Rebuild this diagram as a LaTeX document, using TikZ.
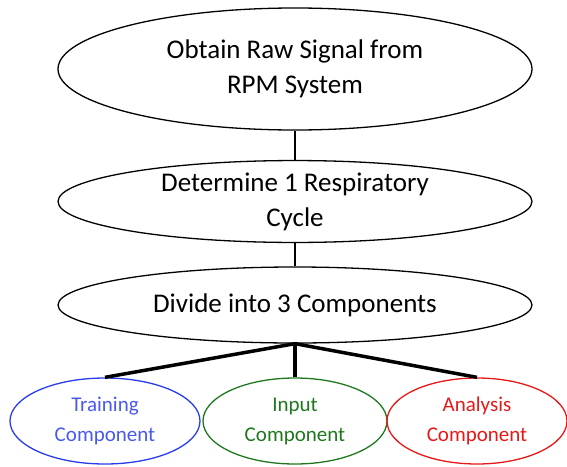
\documentclass[tikz,border=0pt]{standalone}
\usepackage{fontspec}
\setmainfont{Carlito}
\usepackage{tikz}
\usetikzlibrary{shapes.geometric}

\definecolor{trainblue}{RGB}{40,60,235}
\definecolor{inputgreen}{RGB}{30,120,30}
\definecolor{analysisred}{RGB}{230,25,25}

\tikzset{
  stage/.style={draw, ellipse, line width=1.3pt, inner sep=0, align=center, font=\fontsize{27}{35}\selectfont},
  part/.style={draw, ellipse, line width=1.3pt, inner sep=0, align=center, font=\fontsize{21}{30}\selectfont},
}

\begin{document}
\begin{tikzpicture}[x=1pt, y=-1pt]
            \useasboundingbox (0,0) rectangle (567,466);
            \node[stage, minimum width=474pt, minimum height=122pt] (raw) at (295,69) {Obtain Raw Signal from\\RPM System};
            \node[stage, minimum width=474pt, minimum height=77pt] (cycle) at (295,201.5) {Determine 1 Respiratory\\Cycle};
            \node[stage, minimum width=474pt, minimum height=76pt] (divide) at (295,305) {Divide into 3 Components};
            \node[part, draw=trainblue, text=trainblue!85!white, minimum width=190pt, minimum height=86pt] (train) at (105,421) {Training\\Component};
            \node[part, draw=inputgreen, text=inputgreen, minimum width=184pt, minimum height=86pt] (input) at (295,421) {Input\\Component};
            \node[part, draw=analysisred, text=analysisred, minimum width=180pt, minimum height=86pt] (analysis) at (477,421) {Analysis\\Component};
            \draw[line width=2pt] (raw) -- (cycle);
            \draw[line width=2pt] (cycle) -- (divide);
            \draw[line width=3.5pt] (divide.south) -- (train.north);
            \draw[line width=3.5pt] (divide.south) -- (input.north);
            \draw[line width=3.5pt] (divide.south) -- (analysis.north);
        \end{tikzpicture}
\end{document}
